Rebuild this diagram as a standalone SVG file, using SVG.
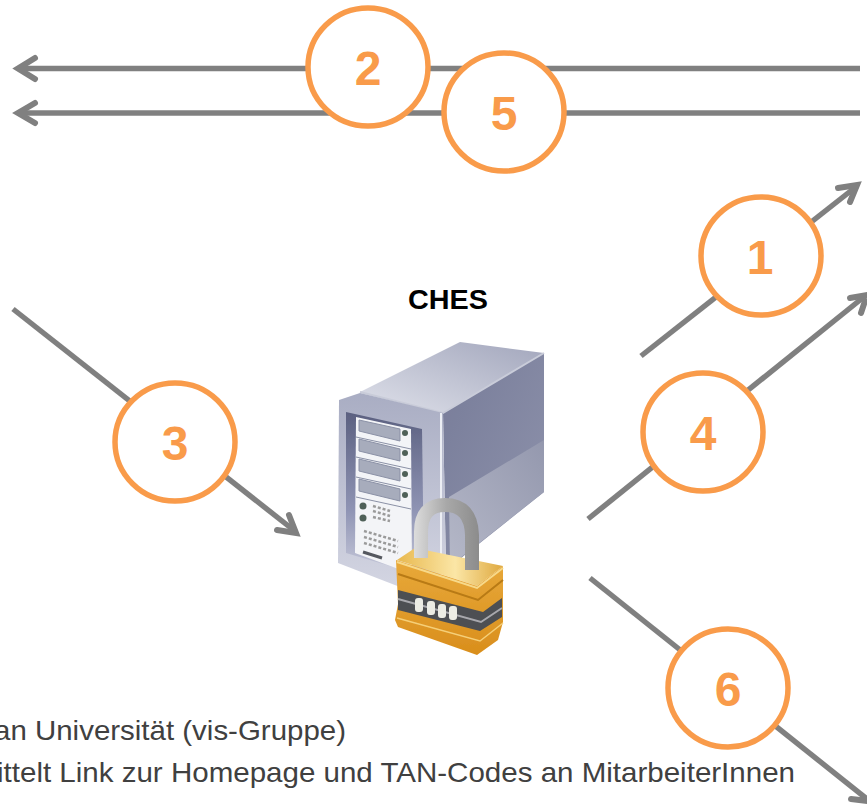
<svg xmlns="http://www.w3.org/2000/svg" width="867" height="805" viewBox="0 0 867 805">
<style>
.c{stroke:#808080;stroke-width:5.4;fill:none}
.h{stroke:#808080;stroke-width:6;fill:none;stroke-linecap:round;stroke-linejoin:miter}
.o{fill:#fff;stroke:#f99b4a;stroke-width:5.5}
.n{font:bold 48px "Liberation Sans",Arial,sans-serif;fill:#f99b4a;text-anchor:middle}
.t{font:28px "Liberation Sans",Arial,sans-serif;fill:#404040}
</style>
<defs>
<filter id="soft" x="-5%" y="-5%" width="110%" height="110%"><feGaussianBlur stdDeviation="0.7"/></filter>
<linearGradient id="side" x1="0" y1="0" x2="1" y2="1"><stop offset="0" stop-color="#777c99"/><stop offset="1" stop-color="#8f93ac"/></linearGradient>
<linearGradient id="sideLow" x1="0" y1="1" x2="1" y2="0"><stop offset="0" stop-color="#b5b8c8"/><stop offset="1" stop-color="#9498ae"/></linearGradient>
<linearGradient id="top" x1="0" y1="1" x2="1" y2="0"><stop offset="0" stop-color="#dfe1ea"/><stop offset="1" stop-color="#a2a6bc"/></linearGradient>
<linearGradient id="front" x1="0" y1="0" x2="0" y2="1"><stop offset="0" stop-color="#a9adc3"/><stop offset="1" stop-color="#d3d5e2"/></linearGradient>
<linearGradient id="strip" x1="0" y1="0" x2="0" y2="1"><stop offset="0" stop-color="#5b6080"/><stop offset=".6" stop-color="#8f94b4"/><stop offset="1" stop-color="#c9cbdc"/></linearGradient>
<linearGradient id="brass" x1="0" y1="0" x2="0" y2="1"><stop offset="0" stop-color="#e8a93a"/><stop offset="1" stop-color="#d98e1c"/></linearGradient>
<linearGradient id="brassTop" x1="0" y1="0" x2="1" y2="0"><stop offset="0" stop-color="#e8b84e"/><stop offset=".55" stop-color="#fbe6a6"/><stop offset="1" stop-color="#dfa93f"/></linearGradient>
<linearGradient id="shackle" gradientUnits="userSpaceOnUse" x1="414" y1="0" x2="479" y2="0"><stop offset="0" stop-color="#dcdcdc"/><stop offset=".5" stop-color="#a8a8a8"/><stop offset="1" stop-color="#8c8c8c"/></linearGradient>
</defs>

<g id="connectors">
<path class="c" d="M860 68.500H20"/><path class="h" d="M35 58 18 68.500 35 79"/>
<path class="c" d="M860 113H20"/><path class="h" d="M35 103 18 113 35 123"/>
<path class="c" d="M641 356 857 186"/><path class="h" d="M838 188 857 185 850 202"/>
<path class="c" d="M588 519 865 296"/><path class="h" d="M850 298 867 295 861 313"/>
<path class="c" d="M13 309 296 532"/><path class="h" d="M277 530 296 533 289 515"/>
<path class="c" d="M590 578 872 803"/><path class="h" d="M851 799 868 801"/>
</g>

<g id="node-ches">
<text x="448" y="309" font-family="'Liberation Sans',Arial,sans-serif" font-size="28" font-weight="bold" text-anchor="middle" textLength="80" lengthAdjust="spacingAndGlyphs" fill="#000">CHES</text>
<g id="server" filter="url(#soft)">
<path d="M360 392 460 342 544 353 443 413Z" fill="url(#top)"/>
<path d="M443 413 544 353 544 492 446 570Z" fill="url(#side)"/>
<path d="M449 497 544 440 544 492 450 566Z" fill="url(#sideLow)"/>
<path d="M360 392 443 413 544 353" fill="none" stroke="#c9ccd9" stroke-width="2"/>
<path d="M339 400 360 393 443 413 446 572 400 587 338 563Z" fill="url(#front)"/>
<path d="M441 413V572" stroke="#eceef4" stroke-width="2"/>
<path d="M346 412 422 429 424 576 346 553Z" fill="url(#strip)"/>
<path d="M356 417 411 429 412 574 355 553Z" fill="#f3f4f7"/>
<g fill="#a7acbc" stroke="#8b91a6" stroke-width="1">
<path d="M359 420 400 429V441L359 431Z"/><path d="M359 439 400 449V461L359 451Z"/><path d="M359 459 400 469V481L359 471Z"/><path d="M359 479 400 489V501L359 491Z"/>
</g>
<path d="M356 437 411 449M356 457 411 469M356 477 411 489M356 497 411 509" stroke="#8b91a6" stroke-width="1"/>
<g fill="#4f6058"><circle cx="405" cy="433" r="3"/><circle cx="405" cy="453" r="3"/><circle cx="405" cy="474" r="3"/><circle cx="405" cy="495" r="3"/><circle cx="363" cy="506" r="3.500"/><circle cx="363" cy="518" r="3.500"/></g>
<path d="M373 506 390 511M373 511 390 516M373 517 390 521M364 531 398 541M364 537 398 547M364 543 398 553" stroke="#9a9a9a" stroke-width="2.500" stroke-dasharray="3 2"/>
<path d="M363 552 382 558" stroke="#55585f" stroke-width="3"/>
</g>
<g id="padlock" filter="url(#soft)">
<path d="M397 560 415 548 503 566 477 586Z" fill="url(#brassTop)"/>
<path d="M421 558V532Q421 505 445 505Q471 505 472 535V570" fill="none" stroke="url(#shackle)" stroke-width="14"/>
<path d="M396 560 477 586 503 566 503 622 498 640 477 655 398 627 395 620 398 604Z" fill="url(#brass)"/>
<path d="M397 562 477 588 503 568" fill="none" stroke="#f7d98a" stroke-width="2"/>
<path d="M398 574 478 600 503 580" fill="none" stroke="#b87a14" stroke-width="2"/>
<path d="M398 590 483 612 502 598 502 617 480 631 398 610Z" fill="#4d4f52"/>
<path d="M398 599 481 622 502 608" fill="none" stroke="#a8a8ad" stroke-width="2"/>
<path d="M397 618 480 641 503 623" fill="none" stroke="#f5cf78" stroke-width="1.500"/>
<g fill="#ecece4"><rect x="415" y="598" width="8" height="14" rx="3"/><rect x="427" y="601" width="8" height="14" rx="3"/><rect x="438" y="604" width="8" height="14" rx="3"/><rect x="449" y="606" width="8" height="14" rx="3"/></g>
</g>
</g>

<g id="n1"><ellipse class="o" cx="761" cy="256" rx="60" ry="59"/><text class="n" x="760" y="274">1</text></g>
<g id="n2"><ellipse class="o" cx="368" cy="67" rx="60" ry="59"/><text class="n" x="368" y="85">2</text></g>
<g id="n5"><ellipse class="o" cx="504" cy="112" rx="60" ry="59"/><text class="n" x="504" y="130">5</text></g>
<g id="n3"><ellipse class="o" cx="175" cy="442" rx="60" ry="59"/><text class="n" x="175" y="460">3</text></g>
<g id="n4"><ellipse class="o" cx="703" cy="432" rx="60" ry="59"/><text class="n" x="703" y="450">4</text></g>
<g id="n6"><ellipse class="o" cx="728" cy="688" rx="60" ry="59"/><text class="n" x="728" y="706">6</text></g>

<g id="legend">
<text class="t" x="-6" y="740" textLength="352" lengthAdjust="spacingAndGlyphs">an Universität (vis-Gruppe)</text>
<text class="t" x="-3" y="782" textLength="798" lengthAdjust="spacingAndGlyphs">ittelt Link zur Homepage und TAN-Codes an MitarbeiterInnen</text>
</g>
</svg>
